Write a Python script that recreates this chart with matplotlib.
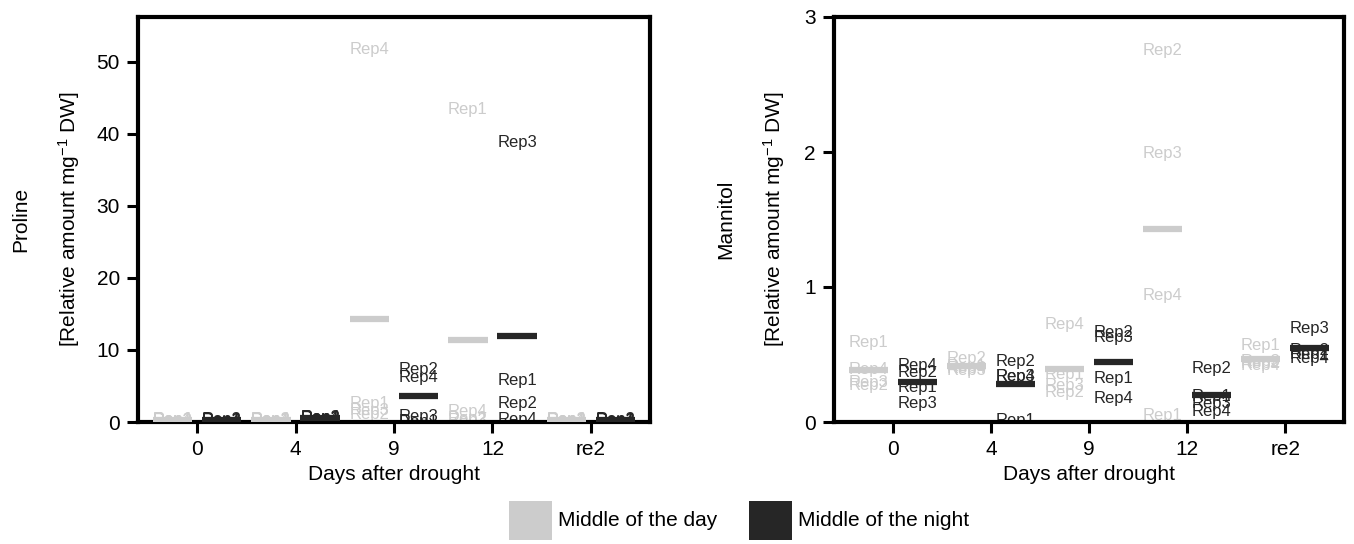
import numpy as np
import matplotlib
matplotlib.use('Agg')
import matplotlib.pyplot as plt
from matplotlib.patches import Rectangle

plt.rcParams['font.family'] = ['Liberation Sans', 'DejaVu Sans']
plt.rcParams['mathtext.fontset'] = 'custom'
plt.rcParams['mathtext.rm'] = 'Liberation Sans'
plt.rcParams['mathtext.it'] = 'Liberation Sans:italic'

days = ['0', '4', '9', '12', 're2']
reps = ['Rep1', 'Rep2', 'Rep3', 'Rep4']
day_color = '#cccccc'
night_color = '#262626'

# rows = time points, columns = Rep1..Rep4
proline_day = [[0.3, 0.25, 0.2, 0.3],
               [0.25, 0.3, 0.2, 0.3],
               [2.6, 1.1, 1.6, 51.7],
               [43.4, 0.5, 0.2, 1.4],
               [0.25, 0.3, 0.2, 0.3]]
proline_night = [[0.2, 0.3, 0.15, 0.25],
                 [0.5, 0.6, 0.55, 0.65],
                 [0.05, 7.3, 0.7, 6.2],
                 [5.8, 2.6, 38.8, 0.4],
                 [0.2, 0.3, 0.2, 0.25]]
mannitol_day = [[0.59, 0.27, 0.29, 0.39],
                [0.41, 0.47, 0.38, 0.40],
                [0.35, 0.22, 0.27, 0.72],
                [0.05, 2.75, 1.99, 0.94],
                [0.57, 0.43, 0.45, 0.42]]
mannitol_night = [[0.256, 0.367, 0.14, 0.415],
                  [0.01, 0.45, 0.34, 0.34],
                  [0.325, 0.66, 0.625, 0.175],
                  [0.19, 0.40, 0.14, 0.076],
                  [0.50, 0.53, 0.69, 0.47]]


def draw_panel(ax, day_vals, night_vals, ylim, yticks, name, label_x):
    x = np.arange(1, len(days) + 1)
    for vals, off, col in [(day_vals, -0.25, day_color), (night_vals, 0.25, night_color)]:
        vals = np.array(vals)
        for i in range(len(days)):
            for j, r in enumerate(reps):
                ax.text(x[i] + off, vals[i, j], r, color=col, fontsize=12,
                        ha='center', va='center', clip_on=True, zorder=2)
        ax.hlines(vals.mean(axis=1), x + off - 0.2, x + off + 0.2,
                  colors=col, lw=4.5, zorder=3)

    ax.set_xlim(0.4, 5.6)
    ax.set_ylim(*ylim)
    ax.set_xticks(x, days)
    ax.set_yticks(yticks)
    for s in ax.spines.values():
        s.set_linewidth(3)
    ax.tick_params(length=8, width=2.2, labelsize=15, pad=5)
    ax.set_xlabel('Days after drought', fontsize=15, labelpad=4)
    ax.text(label_x, 0.5, name + '\n[Relative amount mg$^{-1}$ DW]',
            rotation=90, ha='center', va='center', fontsize=15,
            linespacing=2.3, transform=ax.transAxes)


fig = plt.figure(figsize=(13.54, 5.44), dpi=100)
ax1 = fig.add_axes([138 / 1354, 122 / 544, 512 / 1354, 405 / 544])
ax2 = fig.add_axes([834 / 1354, 122 / 544, 510 / 1354, 405 / 544])

draw_panel(ax1, proline_day, proline_night, (0, 56.2), [0, 10, 20, 30, 40, 50], 'Proline', -0.178)
draw_panel(ax2, mannitol_day, mannitol_night, (0, 3), [0, 1, 2, 3], 'Mannitol', -0.161)

# legend
for x0, col, txt in [(509, day_color, 'Middle of the day'), (749, night_color, 'Middle of the night')]:
    fig.add_artist(Rectangle((x0 / 1354, 4 / 544), 43 / 1354, 39 / 544,
                             facecolor=col, edgecolor='none', transform=fig.transFigure))
    fig.text((x0 + 49) / 1354, 24 / 544, txt, fontsize=15, ha='left', va='center')

fig.savefig('out.png', dpi=100)
